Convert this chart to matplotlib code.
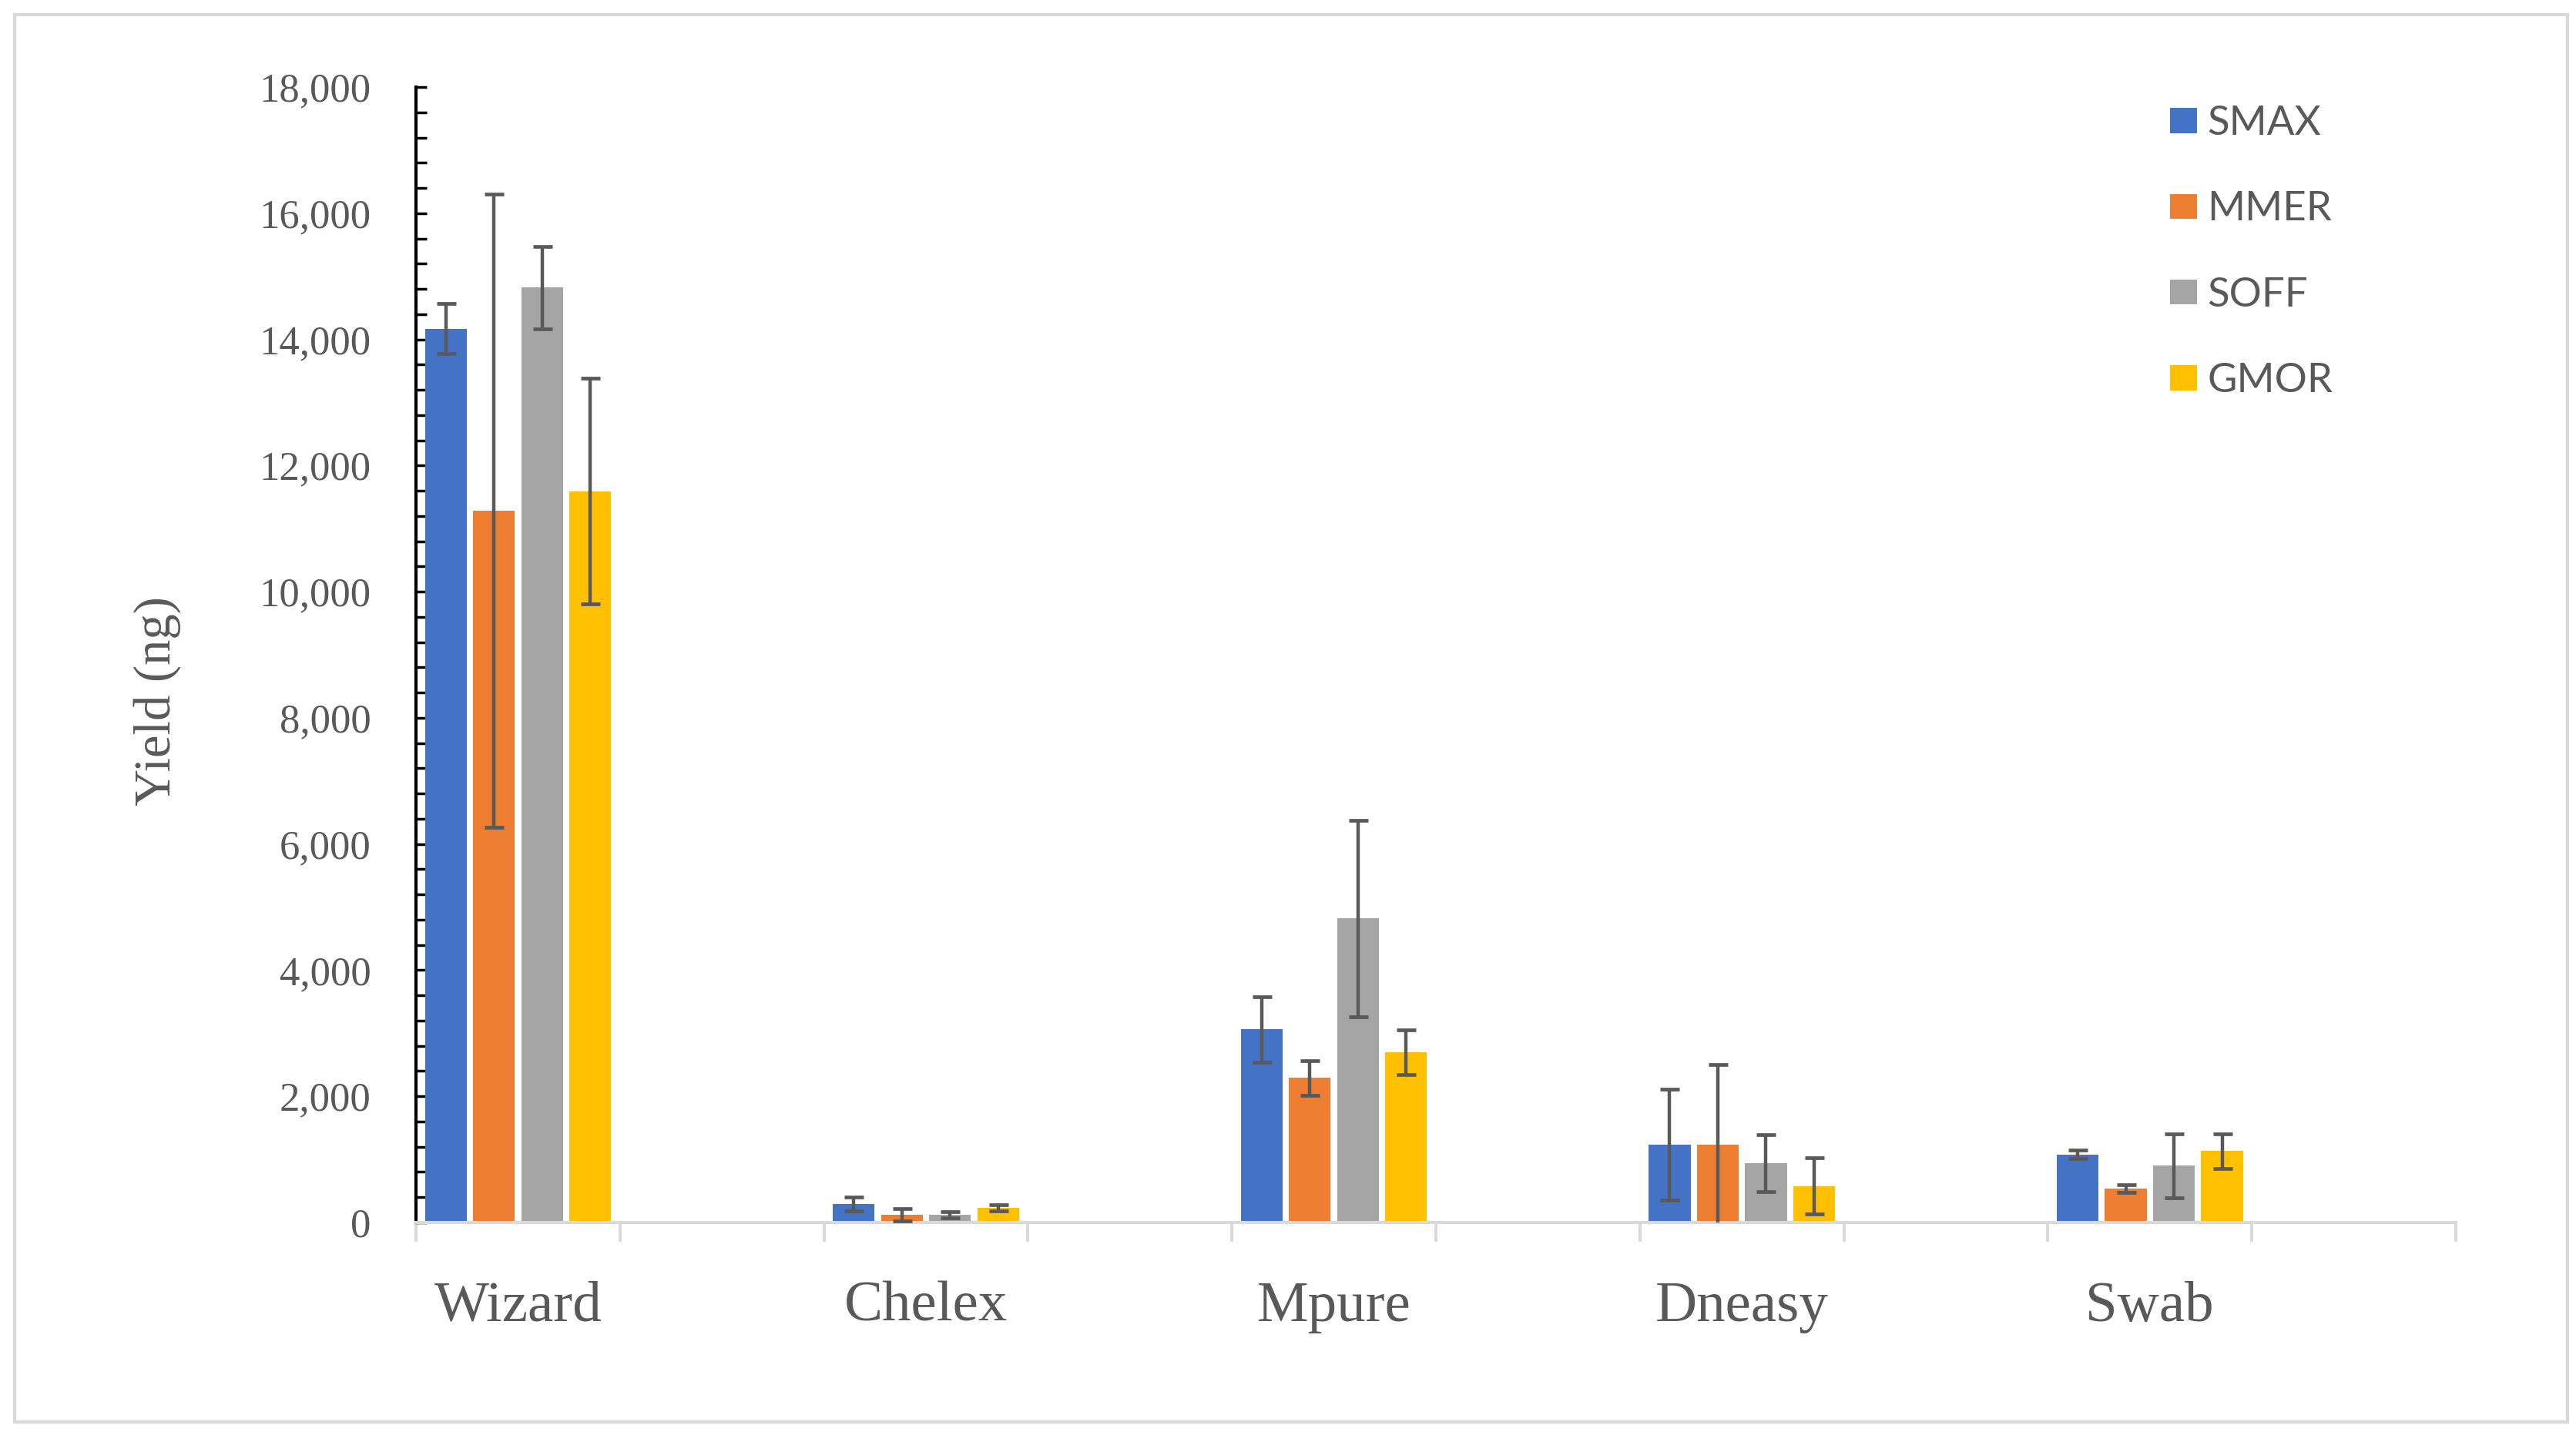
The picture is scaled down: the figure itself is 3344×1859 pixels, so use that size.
import numpy as np
import matplotlib
matplotlib.use('Agg')
import matplotlib.pyplot as plt
from matplotlib.patches import Rectangle

# Data (yield in ng, mean and error)
methods = ['Wizard', 'Chelex', 'Mpure', 'Dneasy', 'Swab']
series = ['SMAX', 'MMER', 'SOFF', 'GMOR']
colors = ['#4472C4', '#ED7D31', '#A5A5A5', '#FFC000']

smax = [14170, 290, 3060, 1230, 1080]
smax_err = [400, 110, 520, 880, 62]
mmer = [11280, 120, 2290, 1230, 535]
mmer_err = [5020, 100, 270, 1270, 60]
soff = [14820, 120, 4820, 940, 900]
soff_err = [650, 50, 1560, 450, 510]
gmor = [11590, 230, 2700, 580, 1130]
gmor_err = [1790, 50, 350, 450, 275]

values = [smax, mmer, soff, gmor]
errors = [smax_err, mmer_err, soff_err, gmor_err]

# Chart has 10 category slots, every second one empty
n_slots = 10
pos = np.arange(len(methods)) * 2

serif = 'Liberation Serif'
grey_text = '#595959'

fig = plt.figure(figsize=(33.44, 18.59), dpi=100)
ax = fig.add_axes([540/3344, 272/1859, (3188-540)/3344, (1587-113)/1859])

step = 0.236
width = 0.205
for j in range(len(series)):
    x = pos + (j - 1.5) * step
    ax.bar(x, values[j], width, color=colors[j], label=series[j], zorder=2)
    ax.errorbar(x, values[j], yerr=errors[j], fmt='none', ecolor=grey_text,
                elinewidth=3.2, capsize=9, capthick=3.4, zorder=3)

ax.set_xlim(-0.5, n_slots - 0.5)
ax.set_ylim(0, 18000)

# y axis: black line, ticks pointing in
ax.set_yticks(np.arange(0, 18001, 2000))
ax.set_yticks(np.arange(0, 18001, 400), minor=True)
ax.set_yticklabels(['{:,}'.format(v) for v in range(0, 18001, 2000)],
                   fontfamily=serif, fontsize=38, color=grey_text)
ax.tick_params(axis='y', which='both', direction='in', length=10, width=2.5,
               color='black', pad=42)
ax.spines['left'].set_linewidth(3)
ax.spines['left'].set_color('black')

# x axis: light grey line, ticks at slot boundaries, labels at centres
ax.set_xticks(np.arange(-0.5, n_slots, 1))
ax.set_xticklabels([])
ax.set_xticks(pos, minor=True)
ax.set_xticklabels(methods, minor=True, fontfamily=serif, fontsize=54,
                   color=grey_text)
ax.tick_params(axis='x', which='major', direction='out', length=18, width=2.9,
               color='#D9D9D9')
ax.tick_params(axis='x', which='minor', length=0, pad=55)
ax.spines['bottom'].set_linewidth(2.9)
ax.spines['bottom'].set_color('#D9D9D9')
ax.spines['top'].set_visible(False)
ax.spines['right'].set_visible(False)

ax.set_ylabel('Yield (ng)', fontfamily=serif, fontsize=48, color=grey_text)
ax.yaxis.set_label_coords(-0.115, 0.459)

fig.legend(loc='upper left', bbox_to_anchor=(2817/3344, 1-137/1859),
           frameon=False, prop={'family': 'Lato', 'size': 38},
           labelcolor=grey_text, handlelength=0.66, handleheight=0.57,
           handletextpad=0.25, labelspacing=1.22, borderpad=0, borderaxespad=0)

# light grey frame round the whole chart
fig.patches.append(Rectangle((19/3344, 13/1859), (3333-19)/3344, (1846-19)/1859,
                             transform=fig.transFigure, fill=False,
                             edgecolor='#D9D9D9', linewidth=3))

plt.savefig('out.png', dpi=100)
